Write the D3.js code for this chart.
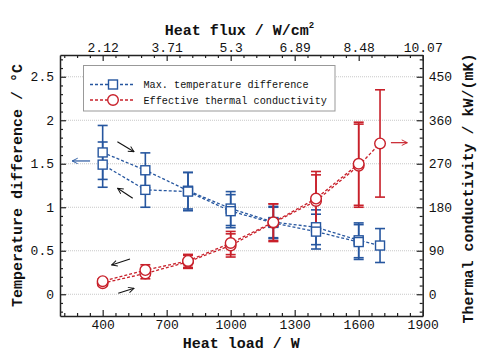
<!DOCTYPE html>
<html>
<head>
<meta charset="utf-8">
<script src="https://cdn.jsdelivr.net/npm/d3@7"></script>
<style>
html,body{margin:0;padding:0;background:#fff;}
svg{display:block;}
text{font-family:"Liberation Mono","DejaVu Sans Mono","Courier New",monospace;}
</style>
</head>
<body>
<svg id="chart" width="497" height="356"></svg>
<script>
// ---- data ----
const heatLoadTicks = [400, 700, 1000, 1300, 1600, 1900];
const heatFluxLabels = ["2.12", "3.71", "5.3", "6.89", "8.48", "10.07"];
const tempTicks = [0, 0.5, 1, 1.5, 2, 2.5];
const condTicks = [0, 90, 180, 270, 360, 450];

// Max. temperature difference (°C), loading and unloading paths
const tempLoadX   = [400, 600, 800, 1000, 1200, 1400, 1600, 1700];
const tempLoadY   = [1.63, 1.425, 1.19, 0.985, 0.83, 0.77, 0.62, 0.56];
const tempLoadErr = [0.31, 0.20, 0.21, 0.195, 0.18, 0.20, 0.20, 0.195];
const tempUnloadX   = [1600, 1400, 1200, 1000, 800, 600, 400];
const tempUnloadY   = [0.60, 0.72, 0.82, 0.955, 1.18, 1.20, 1.49];
const tempUnloadErr = [0.20, 0.20, 0.18, 0.19, 0.22, 0.20, 0.26];

// Effective thermal conductivity (kW/(mK)), loading and unloading paths
const condLoadX   = [400, 600, 800, 1000, 1200, 1400, 1600, 1700];
const condLoadY   = [23, 43, 67, 101, 148, 193, 266, 312];
const condLoadErr = [5, 11, 13.5, 24, 39, 54, 86, 111];
const condUnloadX   = [1600, 1400, 1200, 1000, 800, 600, 400];
const condUnloadY   = [270, 198, 149, 106, 69, 50, 27];
const condUnloadErr = [86, 56, 38, 24, 13.5, 11, 5];

// annotation arrows (data units: heat load, temperature difference)
const arrowsBlack = [
  {x1: 469, y1: 1.753, x2: 547, y2: 1.639},
  {x1: 541, y1: 1.103, x2: 470, y2: 1.218},
  {x1: 528, y1: 0.405, x2: 442, y2: 0.336},
  {x1: 473, y1: 0.011, x2: 547, y2: 0.068}
];
const axisArrowBlue = {x1: 341, y1: 1.532, x2: 257, y2: 1.532};
const axisArrowRed  = {x1: 1751, y1: 313.6, x2: 1828, y2: 313.6};

// ---- layout ----
const L = 60, R = 422.7, T = 55, B = 316;
const blue = "#26569f", red = "#c8202a", axisCol = "#222";

const svg = d3.select("#chart");
const x = d3.scaleLinear().domain([200, 1900]).range([L, R]);
const yL = d3.scaleLinear().domain([-0.25, 2.75]).range([B, T]);
const yR = d3.scaleLinear().domain([-45, 495]).range([B, T]);

// arrow markers
const defs = svg.append("defs");
function marker(id, col) {
  defs.append("marker").attr("id", id).attr("viewBox", "0 0 10 10")
    .attr("refX", 9).attr("refY", 5).attr("markerWidth", 7).attr("markerHeight", 7)
    .attr("markerUnits", "userSpaceOnUse").attr("orient", "auto")
    .append("path").attr("d", "M1,1 L9,5 L1,9").attr("fill", "none")
    .attr("stroke", col).attr("stroke-width", 1.3);
}
marker("ab", "#111"); marker("abl", blue); marker("ar", red);

// gridlines
svg.append("g").selectAll("line").data(tempTicks).join("line")
  .attr("x1", L).attr("x2", R).attr("y1", d => yL(d)).attr("y2", d => yL(d))
  .attr("stroke", "#c8c8c8").attr("stroke-width", 1).attr("stroke-dasharray", "1,1");

// axes
function styleAxis(g) {
  g.attr("font-family", null);
  g.select(".domain").attr("stroke", axisCol).attr("stroke-width", 1.5);
  g.selectAll(".tick line").attr("stroke", axisCol).attr("stroke-width", 1.2);
  g.selectAll("text").attr("font-size", 13).attr("fill", "#111");
}
const minorX = d3.range(220, 1900, 60).filter(v => !heatLoadTicks.includes(v));
const minorYL = d3.range(-2, 28).map(v => v / 10).filter(v => !tempTicks.some(t => Math.abs(t - v) < 1e-6));
const minorYR = d3.range(-2, 28).map(v => v * 18).filter(v => !condTicks.includes(v));

// bottom
svg.append("g").attr("transform", `translate(0,${B})`)
  .call(d3.axisBottom(x).tickValues(minorX).tickSize(-3).tickFormat("").tickSizeOuter(0))
  .call(g => { styleAxis(g); g.select(".domain").remove(); });
svg.append("g").attr("transform", `translate(0,${B})`)
  .call(d3.axisBottom(x).tickValues(heatLoadTicks).tickSize(-6).tickSizeOuter(0).tickPadding(4).tickFormat(d3.format("d")))
  .call(styleAxis);
// top
svg.append("g").attr("transform", `translate(0,${T})`)
  .call(d3.axisTop(x).tickValues(minorX).tickSize(-3).tickFormat("").tickSizeOuter(0))
  .call(g => { styleAxis(g); g.select(".domain").remove(); });
svg.append("g").attr("transform", `translate(0,${T})`)
  .call(d3.axisTop(x).tickValues(heatLoadTicks).tickSize(-6).tickSizeOuter(0).tickPadding(3)
    .tickFormat((d, i) => heatFluxLabels[i]))
  .call(styleAxis);
// left
svg.append("g").attr("transform", `translate(${L},0)`)
  .call(d3.axisLeft(yL).tickValues(minorYL).tickSize(-3).tickFormat("").tickSizeOuter(0))
  .call(g => { styleAxis(g); g.select(".domain").remove(); });
svg.append("g").attr("transform", `translate(${L},0)`)
  .call(d3.axisLeft(yL).tickValues(tempTicks).tickSize(-6).tickSizeOuter(0).tickPadding(6).tickFormat(d3.format("")))
  .call(styleAxis);
// right
svg.append("g").attr("transform", `translate(${R},0)`)
  .call(d3.axisRight(yR).tickValues(minorYR).tickSize(-3).tickFormat("").tickSizeOuter(0))
  .call(g => { styleAxis(g); g.select(".domain").remove(); });
svg.append("g").attr("transform", `translate(${R},0)`)
  .call(d3.axisRight(yR).tickValues(condTicks).tickSize(-6).tickSizeOuter(0).tickPadding(6).tickFormat(d3.format("d")))
  .call(styleAxis);

// axis titles
const titleFont = g => g.attr("font-weight", "bold").attr("font-size", 15).attr("fill", "#111");
svg.append("text").attr("x", (L + R) / 2).attr("y", 348).attr("text-anchor", "middle")
  .text("Heat load / W").call(titleFont);
const tt = svg.append("text").attr("x", (L + R) / 2 - 2).attr("y", 35).attr("text-anchor", "middle").call(titleFont);
tt.append("tspan").text("Heat flux / W/cm");
tt.append("tspan").attr("font-size", 9).attr("dy", -7).text("2");
svg.append("text").attr("transform", `translate(22,${(T + B) / 2}) rotate(-90)`).attr("text-anchor", "middle")
  .text("Temperature difference / °C").call(titleFont);
svg.append("text").attr("transform", `translate(473,${(T + B) / 2 + 3}) rotate(-90)`).attr("text-anchor", "middle")
  .text("Thermal conductivity / kW/(mK)").call(titleFont);

// series drawing
function zip(xs, ys, es) { return xs.map((v, i) => ({x: v, y: ys[i], e: es[i]})); }
const series = [
  {data: zip(tempLoadX, tempLoadY, tempLoadErr), y: yL, col: blue, shape: "sq"},
  {data: zip(tempUnloadX, tempUnloadY, tempUnloadErr), y: yL, col: blue, shape: "sq"},
  {data: zip(condLoadX, condLoadY, condLoadErr), y: yR, col: red, shape: "ci"},
  {data: zip(condUnloadX, condUnloadY, condUnloadErr), y: yR, col: red, shape: "ci"}
];
const plot = svg.append("g");
series.forEach(s => {
  plot.append("path").datum(s.data)
    .attr("d", d3.line().x(d => x(d.x)).y(d => s.y(d.y)))
    .attr("fill", "none").attr("stroke", s.col).attr("stroke-width", 1.3).attr("stroke-dasharray", "3,2");
});
series.forEach(s => {
  const g = plot.append("g").attr("stroke", s.col).attr("stroke-width", 1.6);
  s.data.forEach(d => {
    const cx = x(d.x), y1 = s.y(d.y + d.e), y0 = s.y(d.y - d.e);
    g.append("line").attr("x1", cx).attr("x2", cx).attr("y1", y1).attr("y2", y0);
    g.append("line").attr("x1", cx - 5).attr("x2", cx + 5).attr("y1", y1).attr("y2", y1);
    g.append("line").attr("x1", cx - 5).attr("x2", cx + 5).attr("y1", y0).attr("y2", y0);
  });
});
series.forEach(s => {
  const g = plot.append("g").attr("stroke", s.col).attr("stroke-width", 1.4).attr("fill", "#fff");
  s.data.forEach(d => {
    const cx = x(d.x), cy = s.y(d.y);
    if (s.shape === "sq") g.append("rect").attr("x", cx - 4.5).attr("y", cy - 4.5).attr("width", 9).attr("height", 9);
    else g.append("circle").attr("cx", cx).attr("cy", cy).attr("r", 5.3);
  });
});

// arrows
svg.append("g").selectAll("line").data(arrowsBlack).join("line")
  .attr("x1", d => x(d.x1)).attr("y1", d => yL(d.y1)).attr("x2", d => x(d.x2)).attr("y2", d => yL(d.y2))
  .attr("stroke", "#111").attr("stroke-width", 1.1).attr("marker-end", "url(#ab)");
svg.append("line").attr("x1", x(axisArrowBlue.x1)).attr("y1", yL(axisArrowBlue.y1))
  .attr("x2", x(axisArrowBlue.x2)).attr("y2", yL(axisArrowBlue.y2))
  .attr("stroke", blue).attr("stroke-width", 1.2).attr("marker-end", "url(#abl)");
svg.append("line").attr("x1", x(axisArrowRed.x1)).attr("y1", yR(axisArrowRed.y1))
  .attr("x2", x(axisArrowRed.x2)).attr("y2", yR(axisArrowRed.y2))
  .attr("stroke", red).attr("stroke-width", 1.2).attr("marker-end", "url(#ar)");

// legend
const lg = svg.append("g");
lg.append("rect").attr("x", 83.5).attr("y", 65.5).attr("width", 251.5).attr("height", 45.5)
  .attr("fill", "#fff").attr("stroke", "#999").attr("stroke-width", 1);
const legendItems = [
  {label: "Max. temperature difference", col: blue, shape: "sq"},
  {label: "Effective thermal conductivity", col: red, shape: "ci"}
];
legendItems.forEach((it, i) => {
  const ly = 84.5 + i * 15.5;
  lg.append("line").attr("x1", 90).attr("x2", 134).attr("y1", ly).attr("y2", ly)
    .attr("stroke", it.col).attr("stroke-width", 1.3).attr("stroke-dasharray", "3,2");
  if (it.shape === "sq") lg.append("rect").attr("x", 108.5).attr("y", ly - 4.5).attr("width", 9).attr("height", 9)
    .attr("fill", "#fff").attr("stroke", it.col).attr("stroke-width", 1.4);
  else lg.append("circle").attr("cx", 113).attr("cy", ly).attr("r", 5.3)
    .attr("fill", "#fff").attr("stroke", it.col).attr("stroke-width", 1.4);
  lg.append("text").attr("x", 143.5).attr("y", ly + 3.5).attr("font-size", 10.2)
    .attr("fill", "#111").text(it.label);
});
</script>
</body>
</html>
